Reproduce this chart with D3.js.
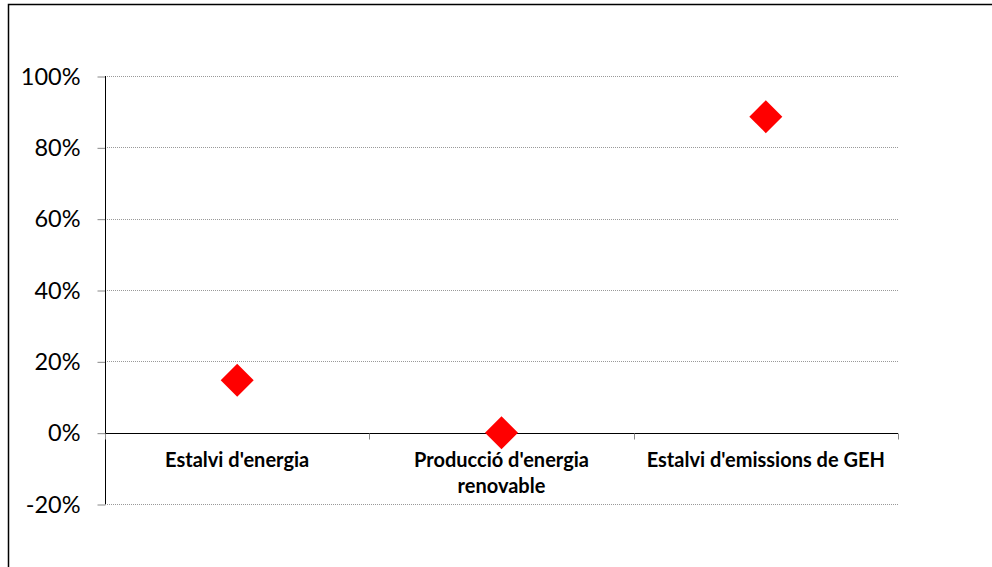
<!DOCTYPE html>
<html><head><meta charset="utf-8">
<script src="https://cdn.jsdelivr.net/npm/d3@7"></script>
<style>body{margin:0;background:#fff}svg{display:block}</style>
</head><body><svg id="c" width="992" height="567"></svg>
<script>
const categories = [["Estalvi d'energia"], ["Producció d'energia", "renovable"], ["Estalvi d'emissions de GEH"]];
const categoryKeys = ["Estalvi d'energia", "Producció d'energia renovable", "Estalvi d'emissions de GEH"];
const values = [0.147, 0.0, 0.886];
const yTicks = [-0.2, 0, 0.2, 0.4, 0.6, 0.8, 1.0];

const svg = d3.select("#c");
svg.append("path").attr("d", "M8.5,567V4.5H992").attr("fill", "none").attr("stroke", "#000").attr("stroke-width", 1.5);

const left = 105, right = 898;
const y = d3.scaleLinear().domain([-0.2, 1.0]).range([504, 76]);
const x = d3.scaleBand().domain(categoryKeys).range([left, right]);

const g = svg.append("g");
g.selectAll("line.grid").data(yTicks.filter(d => d !== 0)).join("line")
  .attr("x1", left).attr("x2", right)
  .attr("y1", d => Math.round(y(d)) + 0.5).attr("y2", d => Math.round(y(d)) + 0.5)
  .attr("stroke", "#999").attr("stroke-dasharray", "1,1");

const fmt = d => d3.format(".0%")(d).replace("−", "-");
const yAxis = d3.axisLeft(y).tickValues(yTicks).tickFormat(fmt).tickSize(8).tickPadding(17);
const ya = svg.append("g").attr("transform", `translate(${left + 0.5},0)`).call(yAxis);
ya.select(".domain").remove();
ya.selectAll(".tick line").attr("stroke", "#888").attr("transform", "translate(0,0.5)");
ya.selectAll(".tick text").attr("font-family", "Lato, sans-serif").attr("font-size", 23.5).attr("fill", "#000").attr("dy", "0.34em");
svg.append("line").attr("x1", left + 0.5).attr("x2", left + 0.5).attr("y1", y(1.0)).attr("y2", y(-0.2)).attr("stroke", "#000");

const y0 = Math.round(y(0)) + 0.5;
svg.append("line").attr("x1", left).attr("x2", right).attr("y1", y0).attr("y2", y0).attr("stroke", "#000");
const bounds = [left, ...categoryKeys.slice(1).map(k => x(k)), right];
svg.selectAll("line.xt").data(bounds).join("line")
  .attr("x1", d => Math.round(d) + 0.5).attr("x2", d => Math.round(d) + 0.5)
  .attr("y1", y0).attr("y2", y0 + 6).attr("stroke", "#888");

const lab = svg.append("g");
categoryKeys.forEach((k, i) => {
  const t = lab.append("text").attr("x", x(k) + x.bandwidth() / 2).attr("y", 467)
    .attr("text-anchor", "middle").attr("font-family", "Lato, sans-serif")
    .attr("font-weight", "bold").attr("font-size", 20).attr("fill", "#000");
  categories[i].forEach((line, j) => {
    t.append("tspan").attr("x", x(k) + x.bandwidth() / 2).attr("dy", j === 0 ? 0 : 25.5).text(line);
  });
});

const s = 16.5;
svg.selectAll("path.pt").data(values).join("path")
  .attr("d", (d, i) => {
    const cx = x(categoryKeys[i]) + x.bandwidth() / 2, cy = y(d);
    return `M${cx},${cy - s}L${cx + s},${cy}L${cx},${cy + s}L${cx - s},${cy}Z`;
  })
  .attr("fill", "#ff0000");
</script></body></html>
